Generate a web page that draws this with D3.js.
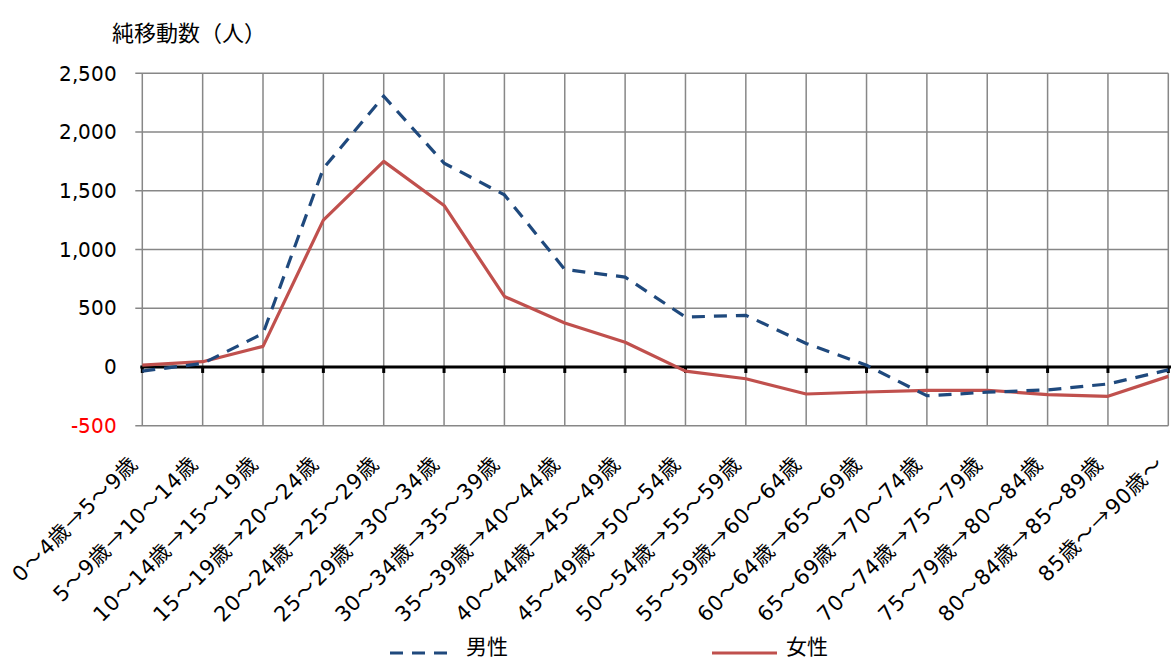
<!DOCTYPE html>
<html>
<head>
<meta charset="utf-8">
<script src="https://cdn.jsdelivr.net/npm/d3@7"></script>
<style>
  /* 数字とカンマだけ DejaVu Sans、記号と漢字は Noto Sans CJK JP */
  @font-face {
    font-family: "ChartDigits";
    src: local("DejaVu Sans"), local("DejaVuSans");
    unicode-range: U+0030-0039, U+002C, U+002D;
  }
  html, body { margin: 0; padding: 0; background: #fff; }
  svg { display: block; font-family: "ChartDigits", "Noto Sans CJK JP", sans-serif; }
</style>
</head>
<body>
<svg id="chart" width="1171" height="661"></svg>
<script>
// 年齢階級の移動（5歳刻み）
const categories = [
  "0～4歳→5～9歳", "5～9歳→10～14歳", "10～14歳→15～19歳", "15～19歳→20～24歳",
  "20～24歳→25～29歳", "25～29歳→30～34歳", "30～34歳→35～39歳", "35～39歳→40～44歳",
  "40～44歳→45～49歳", "45～49歳→50～54歳", "50～54歳→55～59歳", "55～59歳→60～64歳",
  "60～64歳→65～69歳", "65～69歳→70～74歳", "70～74歳→75～79歳", "75～79歳→80～84歳",
  "80～84歳→85～89歳", "85歳～→90歳～"
];
// 純移動数（人）
const male   = [-35, 30, 285, 1690, 2305, 1735, 1465, 830, 765, 425, 440, 200, 15, -245, -215, -195, -145, -25];
const female = [15, 45, 175, 1250, 1750, 1375, 600, 375, 210, -35, -100, -230, -213, -200, -198, -235, -250, -80];
const yTicks = [-500, 0, 500, 1000, 1500, 2000, 2500];
const seriesNames = ["男性", "女性"];

const svg = d3.select("#chart");
const plotLeft = 142.3, plotRight = 1168.3, plotTop = 73.3, plotBottom = 425.7;

const x = d3.scalePoint().domain(categories).range([plotLeft, plotRight]);
const y = d3.scaleLinear().domain([-500, 2500]).range([plotBottom, plotTop]);

const gridColor = "#878787";

// 横グリッド
svg.append("g")
  .selectAll("line")
  .data(yTicks.filter(d => d !== 0))
  .join("line")
  .attr("x1", plotLeft - 7).attr("x2", plotRight)
  .attr("y1", d => y(d)).attr("y2", d => y(d))
  .attr("stroke", gridColor).attr("stroke-width", 1.5);

// 縦グリッド
svg.append("g")
  .selectAll("line")
  .data(categories)
  .join("line")
  .attr("x1", d => x(d)).attr("x2", d => x(d))
  .attr("y1", plotTop).attr("y2", plotBottom)
  .attr("stroke", gridColor).attr("stroke-width", 1.5);

// Y軸ラベル
const fmt = d3.format(",");
svg.append("g")
  .selectAll("text")
  .data(yTicks)
  .join("text")
  .attr("x", 117)
  .attr("y", d => y(d))
  .attr("dy", "0.36em")
  .attr("text-anchor", "end")
  .attr("font-size", 20)
  .attr("fill", d => d < 0 ? "#ff0000" : "#000")
  .text(d => d < 0 ? "-" + fmt(-d) : fmt(d));

// ゼロ線と目盛
svg.append("line")
  .attr("x1", plotLeft - 2).attr("x2", 1171)
  .attr("y1", y(0)).attr("y2", y(0))
  .attr("stroke", "#000").attr("stroke-width", 3);
svg.append("g")
  .selectAll("line")
  .data(categories)
  .join("line")
  .attr("x1", d => x(d)).attr("x2", d => x(d))
  .attr("y1", y(0)).attr("y2", y(0) + 6)
  .attr("stroke", "#000").attr("stroke-width", 3);

// X軸ラベル（斜め）
svg.append("g")
  .selectAll("text")
  .data(categories)
  .join("text")
  .attr("transform", d => `translate(${x(d) - 3},${465}) rotate(-45)`)
  .attr("text-anchor", "end")
  .attr("font-size", 21)
  .attr("letter-spacing", 1.1)
  .attr("fill", "#000")
  .text(d => d);

// 折れ線
const line = d3.line()
  .x((d, i) => x(categories[i]))
  .y(d => y(d));

svg.append("path")
  .datum(female)
  .attr("d", line)
  .attr("fill", "none")
  .attr("stroke", "#C0504D")
  .attr("stroke-width", 3.2)
  .attr("stroke-linejoin", "round");

svg.append("path")
  .datum(male)
  .attr("d", line)
  .attr("fill", "none")
  .attr("stroke", "#1F497D")
  .attr("stroke-width", 3.2)
  .attr("stroke-dasharray", "13,9");

// タイトル
svg.append("text")
  .attr("x", 112).attr("y", 33)
  .attr("dy", "0.36em")
  .attr("font-size", 22)
  .attr("fill", "#000")
  .text("純移動数（人）");

// 凡例
const legend = svg.append("g");
legend.append("line")
  .attr("x1", 390).attr("x2", 456).attr("y1", 653).attr("y2", 653)
  .attr("stroke", "#1F497D").attr("stroke-width", 3.2)
  .attr("stroke-dasharray", "13,9");
legend.append("text")
  .attr("x", 466).attr("y", 646).attr("dy", "0.36em")
  .attr("font-size", 21).text(seriesNames[0]);
legend.append("line")
  .attr("x1", 712).attr("x2", 777).attr("y1", 653).attr("y2", 653)
  .attr("stroke", "#C0504D").attr("stroke-width", 3.2);
legend.append("text")
  .attr("x", 786).attr("y", 646).attr("dy", "0.36em")
  .attr("font-size", 21).text(seriesNames[1]);
</script>
</body>
</html>
